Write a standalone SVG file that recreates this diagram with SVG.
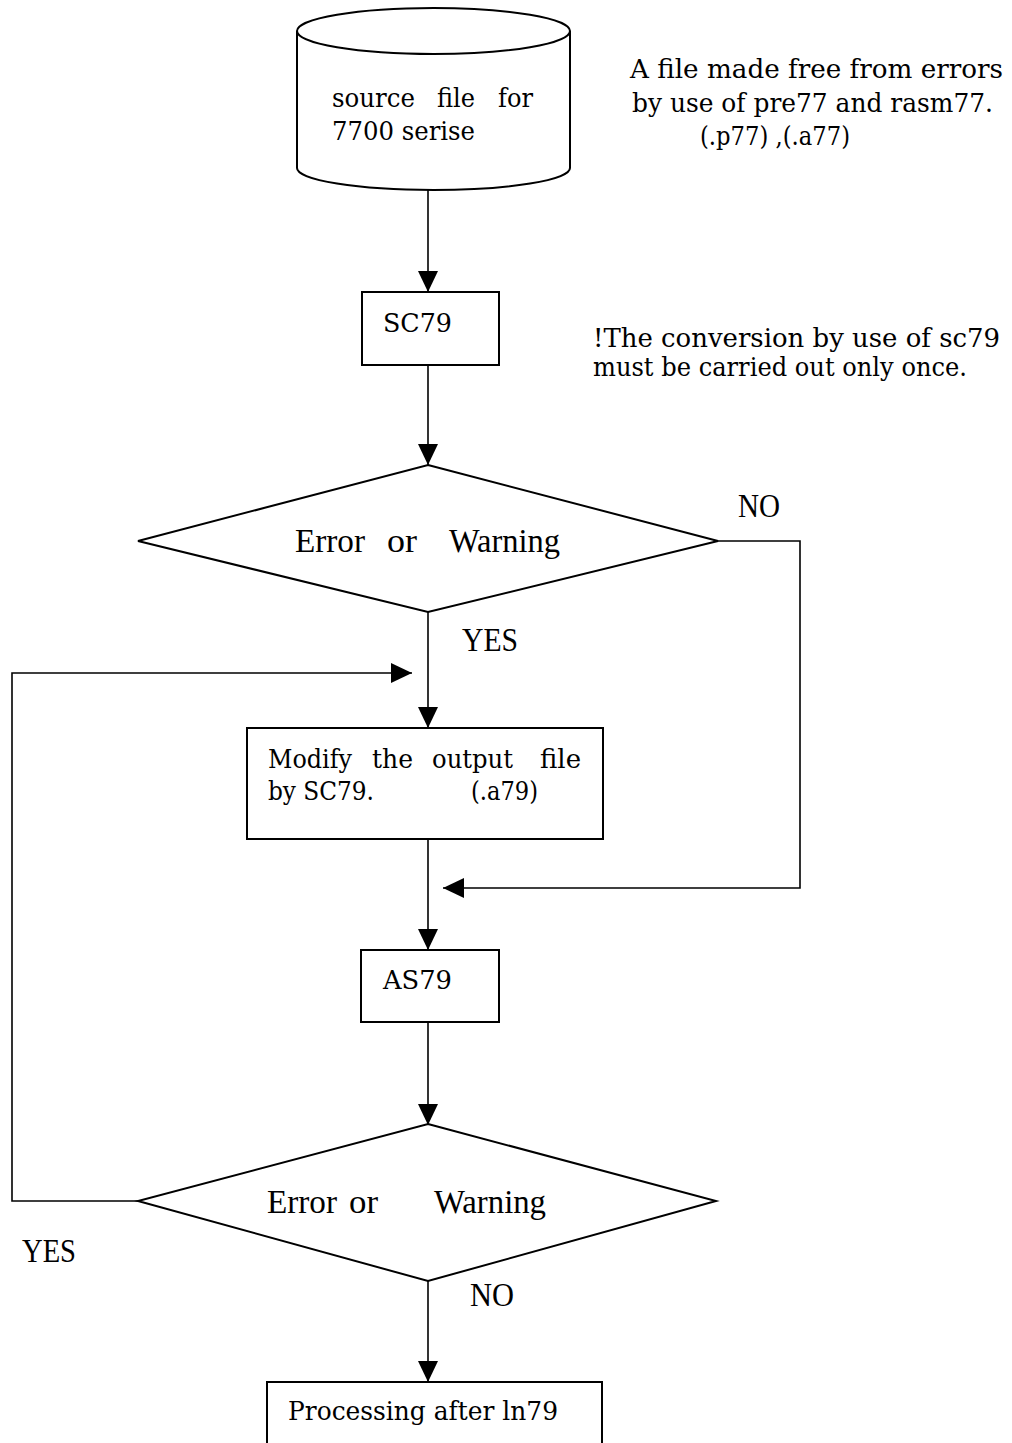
<svg xmlns="http://www.w3.org/2000/svg" width="1012" height="1443" viewBox="0 0 1012 1443">
<style>
.shape{fill:#fff;stroke:#000;stroke-width:2}
.conn{fill:none;stroke:#000;stroke-width:1.6}
.t{font-family:"DejaVu Serif","Liberation Serif",serif;font-size:26px;fill:#000}
.c{font-family:"Liberation Serif",serif;font-size:34px;fill:#000}
</style>
<defs>
<marker id="arr" markerUnits="userSpaceOnUse" markerWidth="22" markerHeight="22" refX="21" refY="10" orient="auto">
<path d="M0,0 L21,10 L0,20 z" fill="#000"/>
</marker>
</defs>
<rect width="1012" height="1443" fill="#fff"/>
<g id="connectors">
<path class="conn" d="M428,190 V292" marker-end="url(#arr)"/>
<path class="conn" d="M428,365 V465" marker-end="url(#arr)"/>
<path class="conn" d="M428,612 V728" marker-end="url(#arr)"/>
<path class="conn" d="M718,541 H800 V888 H443" marker-end="url(#arr)"/>
<path class="conn" d="M428,839 V950" marker-end="url(#arr)"/>
<path class="conn" d="M428,1022 V1125" marker-end="url(#arr)"/>
<path class="conn" d="M138,1201 H12 V673 H412" marker-end="url(#arr)"/>
<path class="conn" d="M428,1281 V1382" marker-end="url(#arr)"/>
</g>
<g id="source">
<path class="shape" d="M297,31 V168 A136.5,22 0 0 0 570,168 V31"/>
<ellipse class="shape" cx="433.5" cy="31" rx="136.5" ry="23"/>
<text class="t" y="107"><tspan x="332" textLength="83" lengthAdjust="spacingAndGlyphs">source</tspan> <tspan x="437" textLength="38" lengthAdjust="spacingAndGlyphs">file</tspan> <tspan x="498" textLength="35" lengthAdjust="spacingAndGlyphs">for</tspan></text>
<text class="t" x="332" y="140" textLength="143" lengthAdjust="spacingAndGlyphs">7700 serise</text>
</g>
<g id="note1">
<text class="t" x="630" y="78" textLength="373" lengthAdjust="spacingAndGlyphs">A file made free from errors</text>
<text class="t" x="632" y="112" textLength="361" lengthAdjust="spacingAndGlyphs">by use of pre77 and rasm77.</text>
<text class="t" x="700" y="145" textLength="150" lengthAdjust="spacingAndGlyphs">(.p77) ,(.a77)</text>
</g>
<g id="sc79">
<rect class="shape" x="362" y="292" width="137" height="73"/>
<text class="t" x="383" y="332" textLength="69" lengthAdjust="spacingAndGlyphs">SC79</text>
</g>
<g id="note2">
<text class="t" x="593" y="347" textLength="407" lengthAdjust="spacingAndGlyphs">!The conversion by use of sc79</text>
<text class="t" x="593" y="376" textLength="374" lengthAdjust="spacingAndGlyphs">must be carried out only once.</text>
</g>
<g id="decision1">
<polygon class="shape" points="428,465 718,541 428,612 138,541"/>
<text class="c" x="295" y="552" textLength="70" lengthAdjust="spacingAndGlyphs">Error</text>
<text class="c" x="387" y="552" textLength="30" lengthAdjust="spacingAndGlyphs">or</text>
<text class="c" x="449" y="552" textLength="111" lengthAdjust="spacingAndGlyphs">Warning</text>
<text class="c" x="738" y="517" textLength="42" lengthAdjust="spacingAndGlyphs">NO</text>
<text class="c" x="462" y="651" textLength="56" lengthAdjust="spacingAndGlyphs">YES</text>
</g>
<g id="modify">
<rect class="shape" x="247" y="728" width="356" height="111"/>
<text class="t" y="768"><tspan x="268" textLength="84" lengthAdjust="spacingAndGlyphs">Modify</tspan> <tspan x="372" textLength="41" lengthAdjust="spacingAndGlyphs">the</tspan> <tspan x="432" textLength="81" lengthAdjust="spacingAndGlyphs">output</tspan> <tspan x="540" textLength="41" lengthAdjust="spacingAndGlyphs">file</tspan></text>
<text class="t" x="268" y="800" textLength="106" lengthAdjust="spacingAndGlyphs">by SC79.</text>
<text class="t" x="471" y="800" textLength="67" lengthAdjust="spacingAndGlyphs">(.a79)</text>
</g>
<g id="as79">
<rect class="shape" x="361" y="950" width="138" height="72"/>
<text class="t" x="383" y="989" textLength="69" lengthAdjust="spacingAndGlyphs">AS79</text>
</g>
<g id="decision2">
<polygon class="shape" points="428,1124 716,1201 428,1281 138,1201"/>
<text class="c" x="267" y="1213" textLength="70" lengthAdjust="spacingAndGlyphs">Error</text>
<text class="c" x="349" y="1213" textLength="29" lengthAdjust="spacingAndGlyphs">or</text>
<text class="c" x="434" y="1213" textLength="112" lengthAdjust="spacingAndGlyphs">Warning</text>
<text class="c" x="22" y="1262" textLength="54" lengthAdjust="spacingAndGlyphs">YES</text>
<text class="c" x="470" y="1306" textLength="44" lengthAdjust="spacingAndGlyphs">NO</text>
</g>
<g id="processing">
<rect class="shape" x="267" y="1382" width="335" height="80"/>
<text class="t" x="288" y="1420" textLength="270" lengthAdjust="spacingAndGlyphs">Processing after ln79</text>
</g>
</svg>
